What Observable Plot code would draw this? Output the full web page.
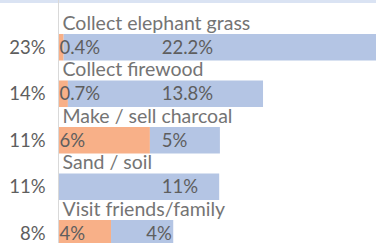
<!DOCTYPE html>
<html>
<head>
<meta charset="utf-8">
<script src="https://cdn.jsdelivr.net/npm/d3@7"></script>
<script src="https://cdn.jsdelivr.net/npm/@observablehq/plot@0.6"></script>
<style>
  html, body { margin: 0; padding: 0; background: #fff; overflow: hidden; }
  #chart svg { display: block; }
</style>
</head>
<body>
<div id="chart"></div>
<script>
const categories = ["Collect elephant grass", "Collect firewood", "Make / sell charcoal", "Sand / soil", "Visit friends/family"];
const orangeValues = [0.4, 0.7, 6.5, 0, 3.75];
const blueValues = [22.2, 13.8, 4.95, 11.4, 4.4];
const orangeLabels = ["0.4%", "0.7%", "6%", "", "4%"];
const blueLabels = ["22.2%", "13.8%", "5%", "11%", "4%"];
const totalLabels = ["23%", "14%", "11%", "11%", "8%"];

const rows = categories.map((c, i) => ({
  cat: c,
  o: orangeValues[i],
  b: blueValues[i],
  total: orangeValues[i] + blueValues[i],
  oLabel: orangeLabels[i],
  bLabel: blueLabels[i],
  tLabel: totalLabels[i]
}));

const textColor = "#5e5e5e";
const catColor = "#747474";
const font = "Lato, 'Open Sans', sans-serif";

const chart = Plot.plot({
  width: 376,
  height: 243,
  marginLeft: 0,
  marginRight: 0,
  marginTop: 0,
  marginBottom: 0,
  style: {fontFamily: font, background: "#fff"},
  x: {domain: [0, 22.49], range: [58, 376], axis: null},
  y: {domain: categories, range: [14, 266.5], paddingInner: 0.43, paddingOuter: 0.43, round: false, axis: null},
  marks: [
    Plot.frame({anchor: "top", stroke: "#dae3f3", strokeWidth: 5}),
    Plot.barX(rows, {y: "cat", x1: 0, x2: "o", fill: "#f8b088", clip: true}),
    Plot.barX(rows, {y: "cat", x1: "o", x2: d => d.o + d.b, fill: "#b4c5e4", clip: true}),
    Plot.ruleX([0], {stroke: "#d9d9d9", strokeWidth: 1}),
    Plot.text(rows, {y: "cat", x: 0, text: "cat", textAnchor: "start", lineAnchor: "bottom", dx: 4, dy: -18, fill: catColor, fontSize: 19.5}),
    Plot.text(rows, {y: "cat", x: 0, text: "oLabel", textAnchor: "start", dx: 1, fill: textColor, fontSize: 18.5}),
    Plot.text(rows, {y: "cat", x: d => Math.min(7.3, d.total - 1.95), text: "bLabel", textAnchor: "start", fill: textColor, fontSize: 18.5}),
    Plot.text(rows, {y: "cat", frameAnchor: "left", dx: 45, text: "tLabel", textAnchor: "end", fill: textColor, fontSize: 18.5})
  ]
});
document.getElementById("chart").appendChild(chart);
</script>
</body>
</html>
